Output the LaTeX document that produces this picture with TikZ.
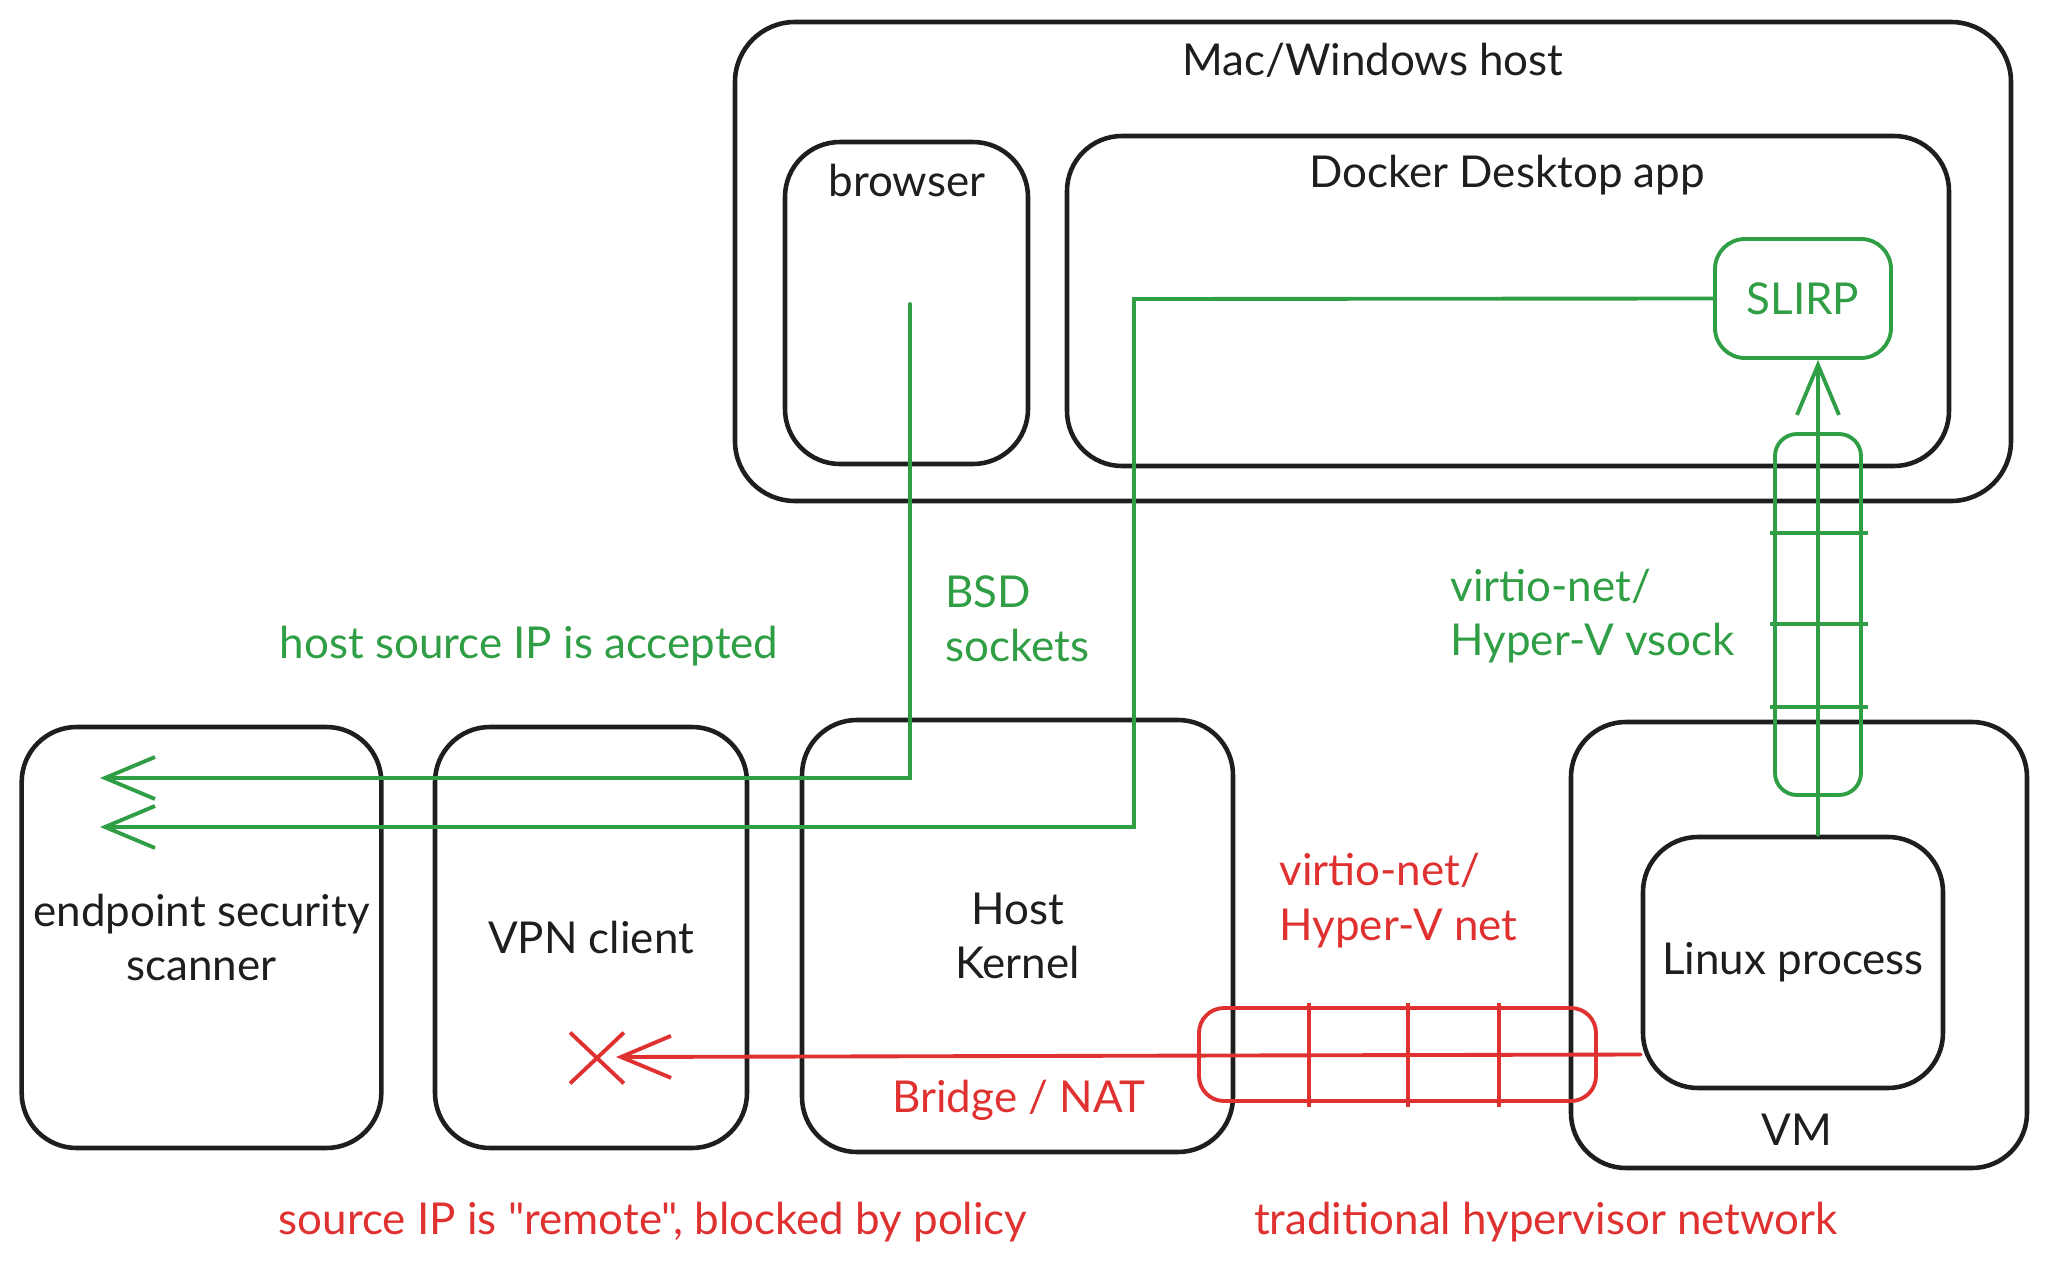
\documentclass[tikz,border=0pt]{standalone}
\usepackage{fontspec}
\setmainfont{Lato}[Ligatures=TeXOff]
\usepackage{tikz}
\usetikzlibrary{arrows.meta,shapes.misc}
\definecolor{ink}{HTML}{1E1E1E}
\definecolor{okgreen}{HTML}{2F9E44}
\definecolor{badred}{HTML}{E03131}

\begin{document}
\begin{tikzpicture}[
  font=\fontsize{12.5}{15.5}\selectfont,
  box/.style={rectangle, draw=ink, line width=1.3pt, rounded corners=0.55cm, align=center, text=ink},
  slirpbox/.style={rectangle, draw=okgreen, line width=1.1pt, rounded corners=0.3cm, text=okgreen},
  tube/.style={rectangle, line width=1.1pt, rounded corners=0.22cm},
  arrow/.style={-{Straight Barb[length=5mm, width=4.2mm, line width=1.1pt]}, line width=1.1pt, line cap=round},
  note/.style={align=left, anchor=west}
]
  \useasboundingbox (0,0) rectangle (20.48,-12.70);

  % host side
  \node[box, rounded corners=0.6cm, minimum width=12.76cm, minimum height=4.79cm] (host) at (13.73, -2.615) {};
  \node[text=ink] (hostlabel) at (13.73, -0.60) {Mac/Windows host};
  \node[box, minimum width=2.43cm, minimum height=3.22cm] (browser) at (9.065, -3.03) {};
  \node[text=ink] (browserlabel) at (9.07, -1.80) {browser};
  \node[box, minimum width=8.82cm, minimum height=3.30cm] (docker) at (15.08, -3.01) {};
  \node[text=ink] (dockerlabel) at (15.07, -1.75) {Docker Desktop app};
  \node[slirpbox, minimum width=1.76cm, minimum height=1.19cm] (slirp) at (18.03, -2.985) {SLIRP};

  % lower row
  \node[box, minimum width=3.59cm, minimum height=4.21cm] (scanner) at (2.015, -9.375) {endpoint security\\scanner};
  \node[box, minimum width=3.12cm, minimum height=4.21cm] (vpn) at (5.91, -9.375) {VPN client};
  \node[box, minimum width=4.31cm, minimum height=4.32cm] (kernel) at (10.175, -9.36) {Host\\Kernel};
  \node[box, minimum width=4.56cm, minimum height=4.46cm] (vm) at (17.99, -9.45) {};
  \node[text=ink] (vmlabel) at (17.97, -11.30) {VM};
  \node[box, minimum width=3.00cm, minimum height=2.51cm] (linux) at (17.93, -9.625) {Linux process};

  % tubes
  \node[tube, draw=okgreen, minimum width=0.86cm, minimum height=3.61cm] (vtube) at (18.18, -6.145) {};
  \foreach \y in {5.33, 6.24, 7.07}
    \draw[okgreen, line width=1.1pt] (17.70, -\y) -- (18.68, -\y);
  \node[tube, draw=badred, rounded corners=0.25cm, minimum width=3.97cm, minimum height=0.93cm] (rtube) at (13.975, -10.545) {};
  \foreach \x in {13.09, 14.08, 14.99}
    \draw[badred, line width=1.1pt] (\x, -10.03) -- (\x, -11.07);

  % green paths
  \coordinate (bsd) at (9.10, -3.04);
  \coordinate (turn) at (11.34, -2.99);
  \coordinate (scan1) at (1.00, -7.78);
  \coordinate (scan2) at (1.00, -8.27);
  \draw[arrow, okgreen] (bsd) |- (scan1);
  \draw[arrow, okgreen] (slirp.west) -- (turn) |- (scan2);
  \draw[arrow, okgreen] (vtube.south |- linux.north) -- (vtube.north |- slirp.south);

  % red path
  \coordinate (blocked) at (6.16, -10.57);
  \draw[arrow, badred] (linux.west |- rtube.center) -- (blocked);
  \node[draw=badred, cross out, line width=1.1pt, minimum width=0.5cm, minimum height=0.47cm, inner sep=0pt] (xmark) at (5.97, -10.58) {};

  % labels
  \node[text=okgreen] (accepted) at (5.29, -6.46) {host source IP is accepted};
  \node[note, text=okgreen] (sockets) at (9.33, -6.19) {BSD\\sockets};
  \node[note, text=okgreen] (vsock) at (14.38, -6.16) {virtio-net/\\Hyper-V vsock};
  \node[note, text=badred] (vnet) at (12.67, -9.005) {virtio-net/\\Hyper-V net};
  \node[text=badred] (nat) at (10.19, -11.00) {Bridge / NAT};
  \node[text=badred] (policy) at (6.53, -12.22) {source IP is "remote", blocked by policy};
  \node[text=badred] (traditional) at (15.46, -12.22) {traditional hypervisor network};
\end{tikzpicture}
\end{document}
